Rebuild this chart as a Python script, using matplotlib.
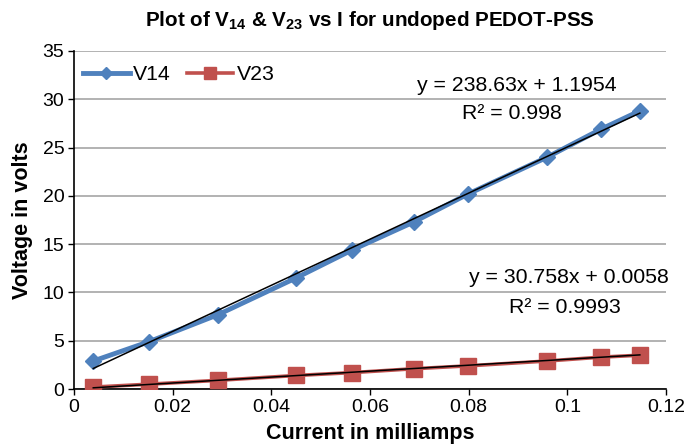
import numpy as np
import matplotlib
matplotlib.use("Agg")
import matplotlib.pyplot as plt

plt.rcParams['font.family'] = ['Liberation Sans', 'DejaVu Sans']
plt.rcParams['mathtext.fontset'] = 'custom'
plt.rcParams['mathtext.rm'] = 'Liberation Sans'
plt.rcParams['mathtext.bf'] = 'Liberation Sans:bold'

# current (mA) and measured voltages (V)
current = [0.0039, 0.0152, 0.0292, 0.0450, 0.0564, 0.0689, 0.0799, 0.0959, 0.1068, 0.1147]
v14 = [2.9, 4.9, 7.7, 11.5, 14.4, 17.3, 20.2, 24.0, 26.9, 28.8]
v23 = [0.2, 0.5, 0.9, 1.4, 1.7, 2.1, 2.4, 2.9, 3.3, 3.5]

# linear fits reported on the chart
fit14 = (238.63, 1.1954, 0.998)
fit23 = (30.758, 0.0058, 0.9993)

blue = '#4F81BD'
red = '#C0504D'
fs = 15.3

fig = plt.figure(figsize=(6.88, 4.45), dpi=100)
ax = fig.add_axes([0.1076, 0.1258, 0.8604, 0.7596])

ax.plot(current, v14, color=blue, lw=3.5, marker='D', ms=8.5, label='V14', zorder=3)
ax.plot(current, v23, color=red, lw=2.6, marker='s', ms=12, label='V23', zorder=3)

xs = np.array([current[0], current[-1]])
for m, b, _ in (fit14, fit23):
    ax.plot(xs, m * xs + b, color='black', lw=1.1, zorder=4)

ax.set_xlim(0, 0.12)
ax.set_ylim(0, 35)
ax.set_xticks([0, 0.02, 0.04, 0.06, 0.08, 0.1, 0.12])
ax.set_xticklabels(['0', '0.02', '0.04', '0.06', '0.08', '0.1', '0.12'])
ax.set_yticks(range(0, 36, 5))
ax.grid(axis='y', color='#a6a6a6', lw=1.2)
ax.set_axisbelow(True)
for s in ('top', 'right'):
    ax.spines[s].set_visible(False)
for s in ('left', 'bottom'):
    ax.spines[s].set_linewidth(1.2)
ax.tick_params(labelsize=14, length=4, width=1, pad=3, colors='black')

ax.set_xlabel('Current in milliamps', fontsize=15.5, fontweight='bold', labelpad=5)
ax.set_ylabel('Voltage in volts', fontsize=15.5, fontweight='bold', labelpad=7)
fig.text(0.538, 0.955, r'Plot of V$_{\mathbf{14}}$ & V$_{\mathbf{23}}$ vs I for undoped PEDOT-PSS',
         fontsize=14.9, fontweight='bold', ha='center', va='center')

ax.legend(loc='center left', bbox_to_anchor=(0.0152, 0.93), frameon=False, fontsize=fs,
          ncol=2, handlelength=2.2, columnspacing=0.75, handletextpad=0.15,
          borderpad=0, borderaxespad=0, markerscale=0.75)

ax.text(0.0898, 31.45, 'y = %.2fx + %.4f' % fit14[:2], fontsize=fs, ha='center', va='center')
ax.text(0.0888, 28.55, 'R² = %s' % fit14[2], fontsize=fs, ha='center', va='center')
ax.text(0.1003, 11.5, 'y = %.3fx + %.4f' % fit23[:2], fontsize=fs, ha='center', va='center')
ax.text(0.0995, 8.4, 'R² = %s' % fit23[2], fontsize=fs, ha='center', va='center')

fig.savefig('out.png', dpi=100)
